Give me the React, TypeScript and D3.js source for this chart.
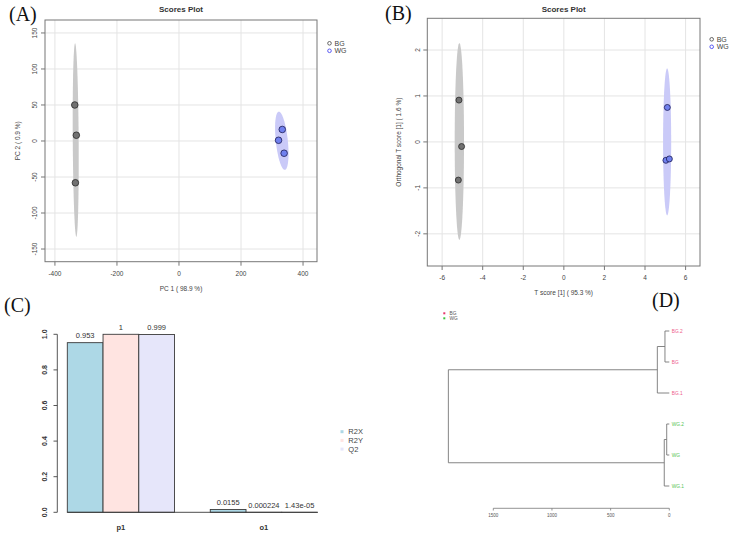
import React from "react";
import * as d3 from "d3";

// ---------- Data ----------
const groups = ["BG", "WG"];
// Panel A: PCA scores
const pcaBG_x = [-336, -331, -334];
const pcaBG_y = [50, 8, -58];
const pcaWG_x = [333, 321, 339];
const pcaWG_y = [16, 1, -17];
const pcaXTicks = [-400, -200, 0, 200, 400];
const pcaYTicks = [-150, -100, -50, 0, 50, 100, 150];
// Panel B: OPLS-DA scores
const oplsBG_x = [-5.17, -5.04, -5.2];
const oplsBG_y = [0.91, -0.1, -0.83];
const oplsWG_x = [5.1, 5.03, 5.2];
const oplsWG_y = [0.75, -0.4, -0.37];
const oplsXTicks = [-6, -4, -2, 0, 2, 4, 6];
const oplsYTicks = [-2, -1, 0, 1, 2];
// Panel C: model summary
const components = ["p1", "o1"];
const metrics = ["R2X", "R2Y", "Q2"];
const valR2X = [0.953, 0.0155];
const valR2Y = [1, 0.000224];
const valQ2 = [0.999, 0.0000143];
const labR2X = ["0.953", "0.0155"];
const labR2Y = ["1", "0.000224"];
const labQ2 = ["0.999", "1.43e-05"];
const barYTicks = [0, 0.2, 0.4, 0.6, 0.8, 1.0];
// Panel D: dendrogram
const dendroLeaves = ["BG.2", "BG", "BG.1", "WG.2", "WG", "WG.1"];
const dendroTree = {
  height: 1883,
  children: [
    { height: 102, children: [{ height: 37, children: [{ name: "BG.2", height: 0 }, { name: "BG", height: 0 }] }, { name: "BG.1", height: 0 }] },
    { height: 43, children: [{ height: 22, children: [{ name: "WG.2", height: 0 }, { name: "WG", height: 0 }] }, { name: "WG.1", height: 0 }] },
  ],
};
const dendroTicks = [1500, 1000, 500, 0];

const FONT = "'Liberation Sans', Arial, sans-serif";
const SERIF = "'Liberation Serif', 'DejaVu Serif', serif";

function ellipsePath(xs: any, ys: any, cx: number, cy: number, dx: number, dy: number, w: number) {
  const pts: [number, number][] = d3.range(0, 360, 3).map((deg) => {
    const t = (deg * Math.PI) / 180;
    return [xs(cx + dx * Math.cos(t) + w * Math.sin(t)), ys(cy + dy * Math.cos(t))];
  });
  return d3.line().curve(d3.curveLinearClosed)(pts) as string;
}

function ScoresPanel(props: any) {
  const { xs, ys, xTicks, yTicks, bgX, bgY, wgX, wgY, ellBG, ellWG, xLabel, yLabel, yLabelX, legendX, legendY, r } = props;
  const [x0, x1] = xs.range();
  const [y0, y1] = ys.range();
  const cxTitle = (x0 + x1) / 2;
  return (
    <g>
      <text x={cxTitle} y={12} textAnchor="middle" fontFamily={FONT} fontWeight="bold" fontSize={8} fill="#333">Scores Plot</text>
      {xTicks.map((t: number) => (
        <line key={"gx" + t} x1={xs(t)} x2={xs(t)} y1={y1} y2={y0} stroke="#e4e4e4" strokeWidth={1} />
      ))}
      {yTicks.map((t: number) => (
        <line key={"gy" + t} x1={x0} x2={x1} y1={ys(t)} y2={ys(t)} stroke="#e4e4e4" strokeWidth={1} />
      ))}
      <path d={ellipsePath(xs, ys, ellBG[0], ellBG[1], ellBG[2], ellBG[3], ellBG[4])} fill="#c9c9c9" />
      <path d={ellipsePath(xs, ys, ellWG[0], ellWG[1], ellWG[2], ellWG[3], ellWG[4])} fill="#cacaf8" />
      {bgX.map((v: number, i: number) => (
        <circle key={"b" + i} cx={xs(v)} cy={ys(bgY[i])} r={r} fill="#717171" stroke="#2a2a2a" strokeWidth={0.8} />
      ))}
      {wgX.map((v: number, i: number) => (
        <circle key={"w" + i} cx={xs(v)} cy={ys(wgY[i])} r={r} fill="#7080ee" stroke="#1c1c55" strokeWidth={0.8} />
      ))}
      <rect x={x0} y={y1} width={x1 - x0} height={y0 - y1} fill="none" stroke="#777" strokeWidth={1} />
      {xTicks.map((t: number) => (
        <g key={"tx" + t}>
          <line x1={xs(t)} x2={xs(t)} y1={y0} y2={y0 + 4} stroke="#777" />
          <text x={xs(t)} y={y0 + 14} textAnchor="middle" fontFamily={FONT} fontSize={6.5} fill="#444">{t}</text>
        </g>
      ))}
      {yTicks.map((t: number) => (
        <g key={"ty" + t}>
          <line x1={x0 - 4} x2={x0} y1={ys(t)} y2={ys(t)} stroke="#777" />
          <text transform={`translate(${x0 - 10},${ys(t)}) rotate(-90)`} textAnchor="middle" dy="0.35em" fontFamily={FONT} fontSize={6.5} fill="#444">{t}</text>
        </g>
      ))}
      <text x={cxTitle} y={y0 + 29} textAnchor="middle" fontFamily={FONT} fontSize={6.5} fill="#444">{xLabel}</text>
      <text transform={`translate(${yLabelX},${(y0 + y1) / 2}) rotate(-90)`} textAnchor="middle" dy="0.35em" fontFamily={FONT} fontSize={6.5} fill="#444">{yLabel}</text>
      {groups.map((g, i) => (
        <g key={"lg" + g}>
          <circle cx={legendX} cy={legendY + i * 7.5} r={1.8} fill="none" stroke={i === 0 ? "#555" : "#4a4af0"} strokeWidth={0.9} />
          <text x={legendX + 5} y={legendY + i * 7.5} dy="0.35em" fontFamily={FONT} fontSize={7} fill="#444">{g}</text>
        </g>
      ))}
    </g>
  );
}

function BarPanel() {
  const ys = d3.scaleLinear().domain([0, 1]).range([512.3, 334.3]);
  const xg = d3.scaleBand().domain(components).range([67.3, 317.5]).paddingInner(0.25).paddingOuter(0);
  const xm = d3.scaleBand().domain(metrics).range([0, xg.bandwidth()]).padding(0);
  const vals = [valR2X, valR2Y, valQ2];
  const labs = [labR2X, labR2Y, labQ2];
  const colors = ["#ADD8E6", "#FFE4E1", "#E6E6FA"];
  return (
    <g>
      {components.map((c, ci) =>
        metrics.map((m, mi) => {
          const x = (xg(c) as number) + (xm(m) as number);
          const v = vals[mi][ci];
          return (
            <g key={c + m}>
              <rect x={x} y={ys(v)} width={xm.bandwidth()} height={ys(0) - ys(v)} fill={colors[mi]} stroke="#3a3a3a" strokeWidth={0.9} />
              <text x={x + xm.bandwidth() / 2} y={ys(v) - 4.5} textAnchor="middle" fontFamily={FONT} fontSize={7.5} fill="#333">{labs[mi][ci]}</text>
            </g>
          );
        })
      )}
      <line x1={xg("p1") as number} x2={(xg("o1") as number) + xg.bandwidth()} y1={ys(0)} y2={ys(0)} stroke="#3a3a3a" strokeWidth={0.9} />
      <line x1={57.3} x2={57.3} y1={ys(0)} y2={ys(1)} stroke="#444" strokeWidth={0.9} />
      {barYTicks.map((t) => (
        <g key={"by" + t}>
          <line x1={53.5} x2={57.3} y1={ys(t)} y2={ys(t)} stroke="#444" strokeWidth={0.9} />
          <text transform={`translate(45,${ys(t)}) rotate(-90)`} textAnchor="middle" dy="0.35em" fontFamily={FONT} fontWeight="bold" fontSize={7} fill="#333">{t.toFixed(1)}</text>
        </g>
      ))}
      {components.map((c) => (
        <text key={"cl" + c} x={(xg(c) as number) + xg.bandwidth() / 2} y={530} textAnchor="middle" fontFamily={FONT} fontWeight="bold" fontSize={7.5} fill="#333">{c}</text>
      ))}
      {metrics.map((m, i) => (
        <g key={"bl" + m}>
          <rect x={340.5} y={431.7 + i * 8.7 - 1.5} width={3} height={3} fill={colors[i]} />
          <text x={348.3} y={431.7 + i * 8.7} dy="0.35em" fontFamily={FONT} fontSize={7.5} fill="#444">{m}</text>
        </g>
      ))}
    </g>
  );
}

function DendroPanel() {
  const xs = d3.scaleLinear().domain([1500, 0]).range([493.3, 669.3]);
  const ys = d3.scalePoint().domain(dendroLeaves).range([331, 486]);
  const lines: JSX.Element[] = [];
  let k = 0;
  function layout(node: any): number {
    if (!node.children) return ys(node.name) as number;
    const cy = node.children.map((c: any) => layout(c));
    const xn = xs(node.height);
    lines.push(<line key={"v" + k++} x1={xn} x2={xn} y1={cy[0]} y2={cy[cy.length - 1]} stroke="#777" strokeWidth={0.9} />);
    node.children.forEach((c: any, i: number) => {
      lines.push(<line key={"h" + k++} x1={xn} x2={xs(c.height)} y1={cy[i]} y2={cy[i]} stroke="#777" strokeWidth={0.9} />);
    });
    return d3.mean(cy) as number;
  }
  layout(dendroTree);
  const colFor = (n: string) => (n.startsWith("BG") ? "#ee5c8c" : "#55c455");
  return (
    <g>
      {lines}
      {dendroLeaves.map((n) => (
        <text key={"dl" + n} x={671.7} y={ys(n) as number} dy="0.35em" fontFamily={FONT} fontSize={4.8} fill={colFor(n)}>{n}</text>
      ))}
      <line x1={xs(1500)} x2={xs(0)} y1={508.3} y2={508.3} stroke="#777" strokeWidth={0.8} />
      {dendroTicks.map((t) => (
        <g key={"dt" + t}>
          <line x1={xs(t)} x2={xs(t)} y1={508.3} y2={510.5} stroke="#777" strokeWidth={0.8} />
          <text x={xs(t)} y={515.7} dy="0.35em" textAnchor="middle" fontFamily={FONT} fontSize={4.5} fill="#555">{t}</text>
        </g>
      ))}
      {groups.map((g, i) => (
        <g key={"dlg" + g}>
          <rect x={443.3} y={313.3 + i * 5 - 1} width={2} height={2} fill={i === 0 ? "#e8336a" : "#3cc63c"} />
          <text x={449.5} y={313.3 + i * 5} dy="0.35em" fontFamily={FONT} fontSize={4.8} fill="#555">{g}</text>
        </g>
      ))}
    </g>
  );
}

export default function App() {
  const xsA = d3.scaleLinear().domain([-432, 445]).range([45, 317]);
  const ysA = d3.scaleLinear().domain([-167.6, 168]).range([261.7, 20]);
  const xsB = d3.scaleLinear().domain([-6.73, 6.71]).range([427.3, 700]);
  const ysB = d3.scaleLinear().domain([-2.7, 2.69]).range([266, 18.3]);
  return (
    <svg width={736} height={538} style={{ position: "absolute", left: 0, top: 0, background: "#fff" }}>
      <rect width={736} height={538} fill="#fff" />
      <text x={9} y={21} fontFamily={SERIF} fontSize={20} fill="#111">(A)</text>
      <text x={385} y={20} fontFamily={SERIF} fontSize={20} fill="#111">(B)</text>
      <text x={4} y={312} fontFamily={SERIF} fontSize={20} fill="#111">(C)</text>
      <text x={652} y={307} fontFamily={SERIF} fontSize={20} fill="#111">(D)</text>
      <ScoresPanel xs={xsA} ys={ysA} xTicks={pcaXTicks} yTicks={pcaYTicks} bgX={pcaBG_x} bgY={pcaBG_y} wgX={pcaWG_x} wgY={pcaWG_y}
        ellBG={[-333, 1.3, -2, 134.4, 9.5]} ellWG={[331.5, 0.3, -9.5, 40.4, 19.5]}
        xLabel="PC 1 ( 98.9 %)" yLabel="PC 2 ( 0.9 %)" yLabelX={17.5} legendX={329.5} legendY={43.3} r={3.3} />
      <ScoresPanel xs={xsB} ys={ysB} xTicks={oplsXTicks} yTicks={oplsYTicks} bgX={oplsBG_x} bgY={oplsBG_y} wgX={oplsWG_x} wgY={oplsWG_y}
        ellBG={[-5.15, 0.01, 0, 2.14, 0.23]} ellWG={[5.09, 0, 0, 1.6, 0.2]}
        xLabel="T score [1] ( 95.3 %)" yLabel="Orthogonal T score [1] ( 1.6 %)" yLabelX={399} legendX={711.7} legendY={39.3} r={3} />
      <BarPanel />
      <DendroPanel />
    </svg>
  );
}
